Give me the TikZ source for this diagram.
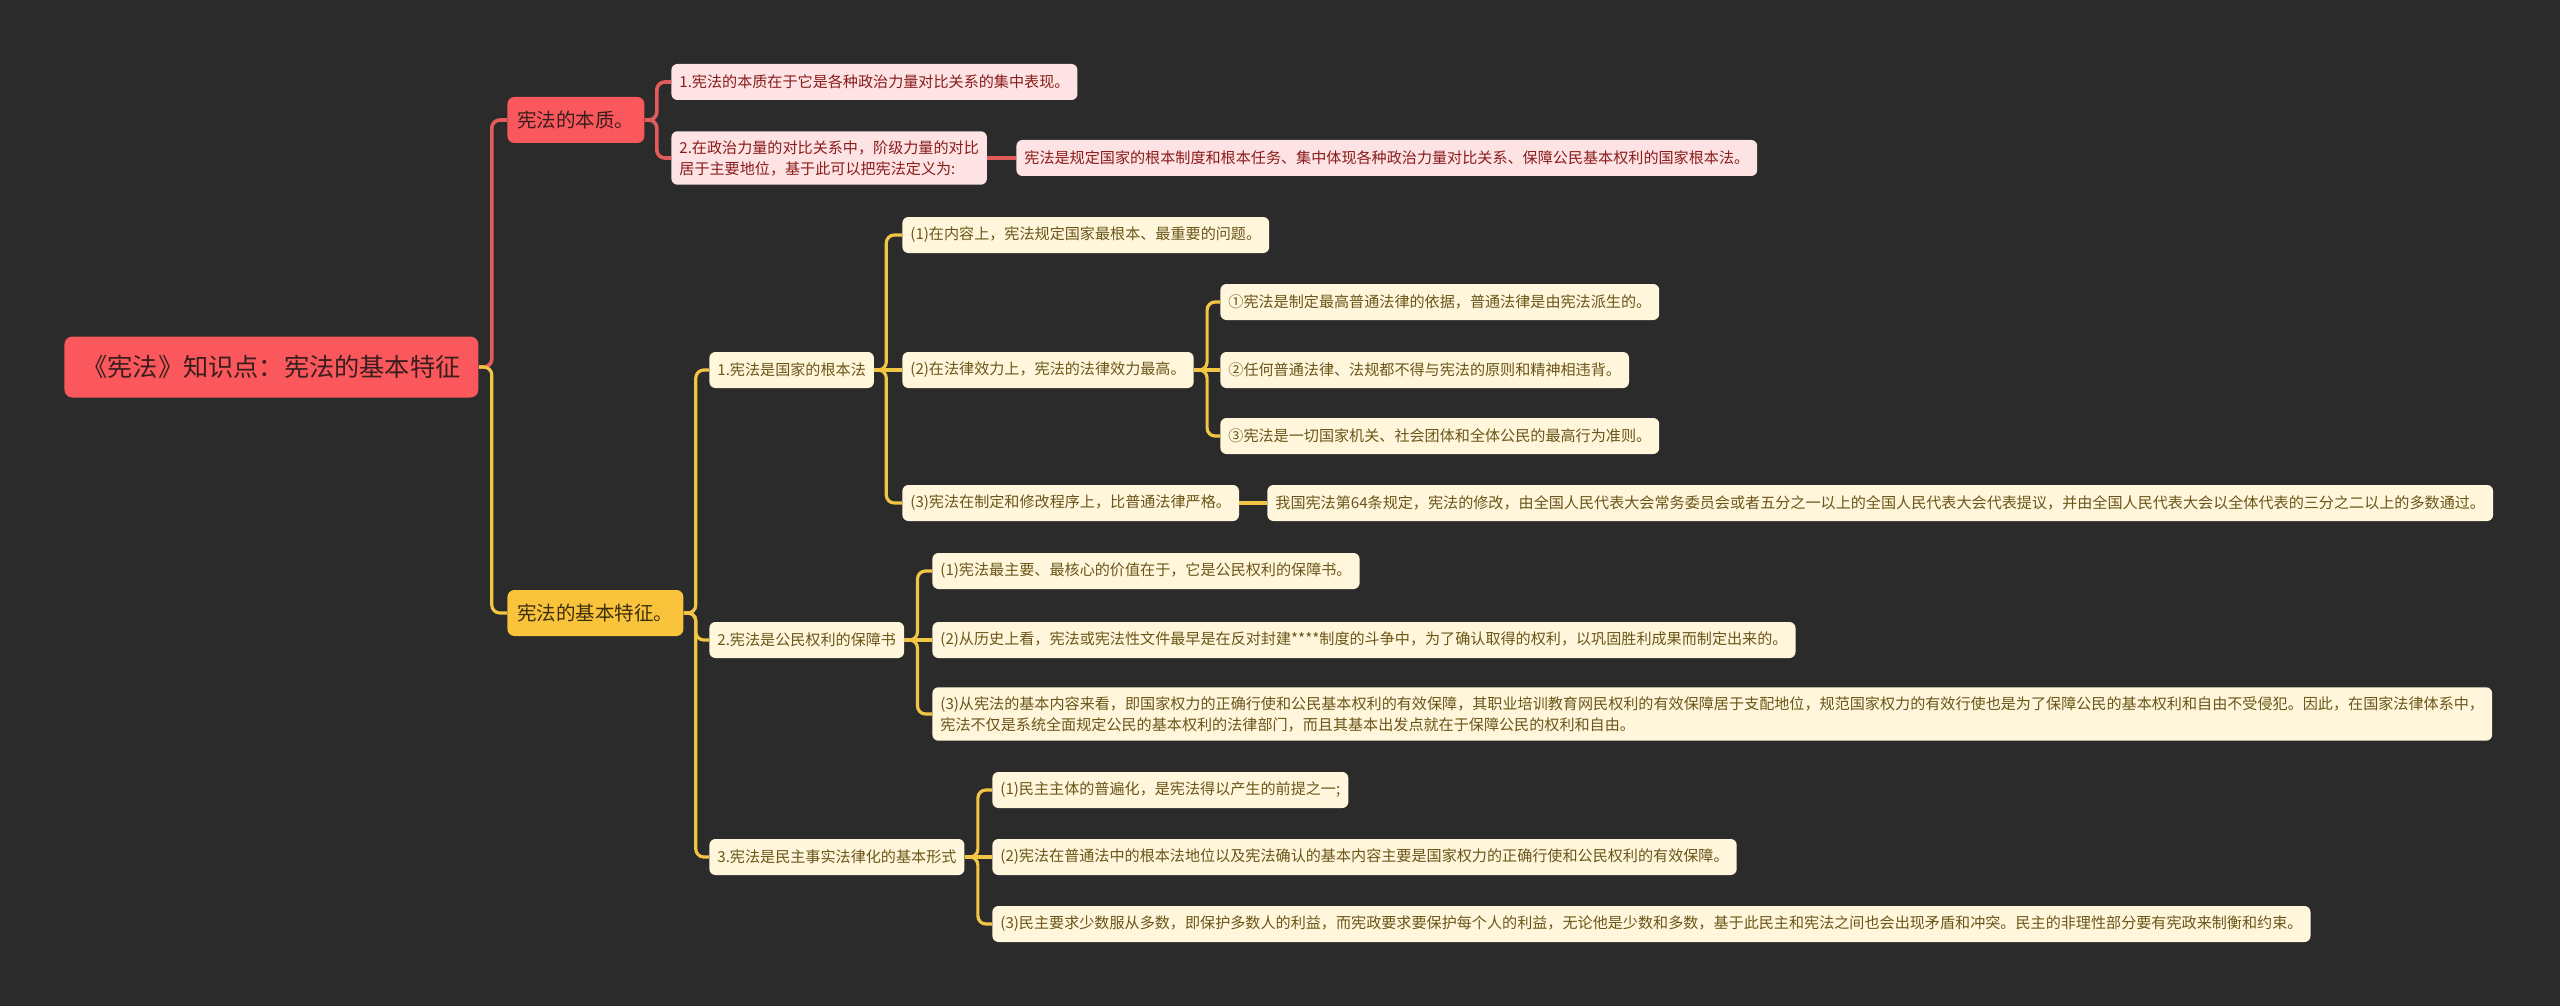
\documentclass[tikz,border=0pt]{standalone}
\usepackage{fontspec}
\usepackage{tikz}
\newfontfamily\cjk{Noto Sans CJK SC}
\definecolor{bgdark}{HTML}{2B2B2B}
\definecolor{rootred}{HTML}{FA585C}
\definecolor{roottext}{HTML}{3A1E1E}
\definecolor{linered}{HTML}{E25C5C}
\definecolor{pinkfill}{HTML}{FDE3E3}
\definecolor{pinktext}{HTML}{8A1C1C}
\definecolor{featyellow}{HTML}{F9C33C}
\definecolor{feattext}{HTML}{3D2F0E}
\definecolor{lineyel}{HTML}{F2C545}
\definecolor{creamfill}{HTML}{FFF6DC}
\definecolor{olivetext}{HTML}{6B5618}

\begin{document}
\begin{tikzpicture}[
    x=0.5pt, y=-0.5pt,
    rootbox/.style={fill=rootred, rounded corners=4pt, text=roottext, font=\cjk\fontsize{12.6}{15}\selectfont, inner xsep=9pt, minimum height=30.5pt, anchor=west},
    redmain/.style={fill=rootred, rounded corners=3.5pt, text=roottext, font=\cjk\fontsize{9.75}{12}\selectfont, inner xsep=5pt, minimum height=23pt, anchor=west},
    yelmain/.style={redmain, fill=featyellow, text=feattext},
    pinkleaf/.style={fill=pinkfill, rounded corners=3pt, text=pinktext, font=\cjk\fontsize{7.55}{10.5}\selectfont, inner xsep=4pt, inner ysep=4.5pt, minimum height=18pt, align=left, anchor=west},
    yelleaf/.style={pinkleaf, fill=creamfill, text=olivetext},
    redlink/.style={draw=linered, line width=1.8pt, rounded corners=4pt},
    yellink/.style={draw=lineyel, line width=1.6pt, rounded corners=4pt}
]

\useasboundingbox (0,0) rectangle (2560,1006);
\fill[bgdark] (0,0) rectangle (2560,1006);

% Root and the two main branches
\node[rootbox] (root) at (64, 367) {《宪法》知识点：宪法的基本特征};
\node[redmain] (ess) at (507, 120) {宪法的本质。};
\node[yelmain] (feat) at (507, 613) {宪法的基本特征。};

% Essence branch
\node[pinkleaf] (n1) at (671, 82) {1.宪法的本质在于它是各种政治力量对比关系的集中表现。};
\node[pinkleaf] (n2) at (671, 158) {2.在政治力量的对比关系中，阶级力量的对比\\居于主要地位，基于此可以把宪法定义为:};
\node[pinkleaf] (n2a) at (1016, 158) {宪法是规定国家的根本制度和根本任务、集中体现各种政治力量对比关系、保障公民基本权利的国家根本法。};

% Features branch, first level
\node[yelleaf] (b1) at (709, 370) {1.宪法是国家的根本法};
\node[yelleaf] (b2) at (709, 640) {2.宪法是公民权利的保障书};
\node[yelleaf] (b3) at (709, 857) {3.宪法是民主事实法律化的基本形式};

% Under 1.
\node[yelleaf] (c1) at (902, 235) {(1)在内容上，宪法规定国家最根本、最重要的问题。};
\node[yelleaf] (c2) at (902, 370) {(2)在法律效力上，宪法的法律效力最高。};
\node[yelleaf] (c3) at (902, 503) {(3)宪法在制定和修改程序上，比普通法律严格。};
\node[yelleaf] (d1) at (1220, 302) {①宪法是制定最高普通法律的依据，普通法律是由宪法派生的。};
\node[yelleaf] (d2) at (1220, 370) {②任何普通法律、法规都不得与宪法的原则和精神相违背。};
\node[yelleaf] (d3) at (1220, 436) {③宪法是一切国家机关、社会团体和全体公民的最高行为准则。};
\node[yelleaf] (c3a) at (1267, 503) {我国宪法第64条规定，宪法的修改，由全国人民代表大会常务委员会或者五分之一以上的全国人民代表大会代表提议，并由全国人民代表大会以全体代表的三分之二以上的多数通过。};

% Under 2.
\node[yelleaf] (e1) at (932, 571) {(1)宪法最主要、最核心的价值在于，它是公民权利的保障书。};
\node[yelleaf] (e2) at (932, 640) {(2)从历史上看，宪法或宪法性文件最早是在反对封建****制度的斗争中，为了确认取得的权利，以巩固胜利成果而制定出来的。};
\node[yelleaf] (e3) at (932, 714) {(3)从宪法的基本内容来看，即国家权力的正确行使和公民基本权利的有效保障，其职业培训教育网民权利的有效保障居于支配地位，规范国家权力的有效行使也是为了保障公民的基本权利和自由不受侵犯。因此，在国家法律体系中，\\宪法不仅是系统全面规定公民的基本权利的法律部门，而且其基本出发点就在于保障公民的权利和自由。};

% Under 3.
\node[yelleaf] (f1) at (992, 790) {(1)民主主体的普遍化，是宪法得以产生的前提之一;};
\node[yelleaf] (f2) at (992, 857) {(2)宪法在普通法中的根本法地位以及宪法确认的基本内容主要是国家权力的正确行使和公民权利的有效保障。};
\node[yelleaf] (f3) at (992, 924) {(3)民主要求少数服从多数，即保护多数人的利益，而宪政要求要保护每个人的利益，无论他是少数和多数，基于此民主和宪法之间也会出现矛盾和冲突。民主的非理性部分要有宪政来制衡和约束。};

% Root links
\draw[redlink] (root.east) -- ++(13,0) |- (ess.west);
\draw[yellink] (root.east) -- ++(13,0) |- (feat.west);

% Essence links
\draw[redlink] (ess.east) -- ++(12,0) |- (n1.west);
\draw[redlink] (ess.east) -- ++(12,0) |- (n2.west);
\draw[redlink] (n2.east) -- (n2a.west);

% Feature links
\draw[yellink] (feat.east) -- ++(12,0) |- (b1.west);
\draw[yellink] (feat.east) -- ++(12,0) |- (b2.west);
\draw[yellink] (feat.east) -- ++(12,0) |- (b3.west);

\draw[yellink] (b1.east) -- ++(12,0) |- (c1.west);
\draw[yellink] (b1.east) -- (c2.west);
\draw[yellink] (b1.east) -- ++(12,0) |- (c3.west);
\draw[yellink] (c2.east) -- ++(13,0) |- (d1.west);
\draw[yellink] (c2.east) -- (d2.west);
\draw[yellink] (c2.east) -- ++(13,0) |- (d3.west);
\draw[yellink] (c3.east) -- (c3a.west);

\draw[yellink] (b2.east) -- ++(13,0) |- (e1.west);
\draw[yellink] (b2.east) -- (e2.west);
\draw[yellink] (b2.east) -- ++(13,0) |- (e3.west);

\draw[yellink] (b3.east) -- ++(13,0) |- (f1.west);
\draw[yellink] (b3.east) -- (f2.west);
\draw[yellink] (b3.east) -- ++(13,0) |- (f3.west);

\end{tikzpicture}
\end{document}
